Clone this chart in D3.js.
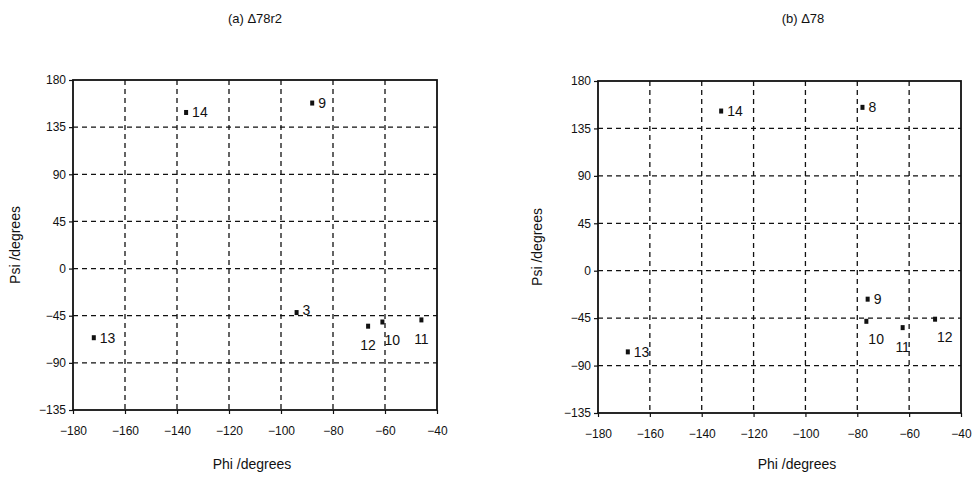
<!DOCTYPE html>
<html>
<head>
<meta charset="utf-8">
<script src="https://cdn.jsdelivr.net/npm/d3@7"></script>
<style>
  html, body { margin: 0; padding: 0; background: #fff; }
  svg { display: block; font-family: "Liberation Sans", Arial, sans-serif; }
</style>
</head>
<body>
<svg id="chart" width="976" height="482"></svg>
<script>
// Axis ticks shared by both panels
const phiTicks = [-180, -160, -140, -120, -100, -80, -60, -40];
const psiTicks = [-135, -90, -45, 0, 45, 90, 135, 180];

// Panel (a): Δ78r2 backbone angles
const residuesA = ["14", "9", "3", "13", "12", "10", "11"];
const phiA = [-136.5, -88, -94, -172, -66.5, -61, -46];
const psiA = [149, 158, -42, -66, -55, -51, -49];

// Panel (b): Δ78 backbone angles
const residuesB = ["14", "8", "9", "10", "11", "12", "13"];
const phiB = [-132.5, -78, -76, -76.5, -62.5, -50, -168.5];
const psiB = [151.5, 155, -27, -48, -54, -46, -77];

// Where each residue number sits relative to its point
const placeA = ["right", "right", "upRight", "right", "below", "belowRight", "below"];
const placeB = ["right", "right", "right", "belowRight", "below", "belowRight", "right"];

const panels = [
  { title: "(a) \u039478r2", residues: residuesA, phi: phiA, psi: psiA, place: placeA,
    x0: 73, x1: 437, y0: 80, y1: 410, titleX: 255, phiLabX: 252, ylabX: 20 },
  { title: "(b) \u039478", residues: residuesB, phi: phiB, psi: psiB, place: placeB,
    x0: 598, x1: 961, y0: 81, y1: 413, titleX: 803, phiLabX: 797, ylabX: 542 }
];

const svg = d3.select("#chart");

const labelOffset = {
  right:      { dx: 6,  dy: 5,  anchor: "start" },
  upRight:    { dx: 6,  dy: 2,  anchor: "start" },
  below:      { dx: 0,  dy: 24, anchor: "middle" },
  belowRight: { dx: 2,  dy: 23, anchor: "start" }
};

panels.forEach(p => {
  const x = d3.scaleLinear().domain([-180, -40]).range([p.x0, p.x1]);
  const y = d3.scaleLinear().domain([-135, 180]).range([p.y1, p.y0]);
  const g = svg.append("g");

  // dashed grid at the interior ticks
  g.append("g").selectAll("line.gx")
    .data(phiTicks.slice(1, -1)).join("line")
    .attr("x1", d => x(d)).attr("x2", d => x(d))
    .attr("y1", p.y0).attr("y2", p.y1)
    .attr("stroke", "#111").attr("stroke-width", 1.3)
    .attr("stroke-dasharray", "5,4");
  g.append("g").selectAll("line.gy")
    .data(psiTicks.slice(1, -1)).join("line")
    .attr("y1", d => y(d)).attr("y2", d => y(d))
    .attr("x1", p.x0).attr("x2", p.x1)
    .attr("stroke", "#111").attr("stroke-width", 1.3)
    .attr("stroke-dasharray", "5,4");

  // axes
  const xAxis = d3.axisBottom(x).tickValues(phiTicks).tickSize(4).tickPadding(12);
  const yAxis = d3.axisLeft(y).tickValues(psiTicks).tickSize(4).tickPadding(3);
  const gx = g.append("g").attr("transform", `translate(0,${p.y1})`).call(xAxis);
  const gy = g.append("g").attr("transform", `translate(${p.x0},0)`).call(yAxis);
  [gx, gy].forEach(a => {
    a.select(".domain").remove();
    a.selectAll(".tick line").attr("stroke", "#111").attr("stroke-width", 1.2);
    a.selectAll(".tick text").attr("fill", "#111")
      .style("font-size", "12px").style("font-family", "'Liberation Sans', Arial, sans-serif");
  });

  // frame
  g.append("rect")
    .attr("x", p.x0).attr("y", p.y0)
    .attr("width", p.x1 - p.x0).attr("height", p.y1 - p.y0)
    .attr("fill", "none").attr("stroke", "#111").attr("stroke-width", 1.8);

  // points and residue labels
  const pts = p.residues.map((r, i) => ({ r, phi: p.phi[i], psi: p.psi[i], place: p.place[i] }));
  g.append("g").selectAll("rect.pt").data(pts).join("rect")
    .attr("x", d => x(d.phi) - 2).attr("y", d => y(d.psi) - 2.5)
    .attr("width", 4).attr("height", 5).attr("fill", "#111");
  g.append("g").selectAll("text.lab").data(pts).join("text")
    .attr("x", d => x(d.phi) + labelOffset[d.place].dx)
    .attr("y", d => y(d.psi) + labelOffset[d.place].dy)
    .attr("text-anchor", d => labelOffset[d.place].anchor)
    .attr("fill", "#111").style("font-size", "14px")
    .text(d => d.r);

  // titles
  svg.append("text").attr("x", p.titleX).attr("y", 23)
    .attr("text-anchor", "middle").attr("fill", "#111").style("font-size", "13px")
    .text(p.title);
  svg.append("text").attr("x", p.phiLabX).attr("y", 469)
    .attr("text-anchor", "middle").attr("fill", "#111").style("font-size", "14px")
    .text("Phi /degrees");
  svg.append("text")
    .attr("transform", `translate(${p.ylabX},${(p.y0 + p.y1) / 2}) rotate(-90)`)
    .attr("text-anchor", "middle").attr("fill", "#111").style("font-size", "14px")
    .text("Psi /degrees");
});
</script>
</body>
</html>
